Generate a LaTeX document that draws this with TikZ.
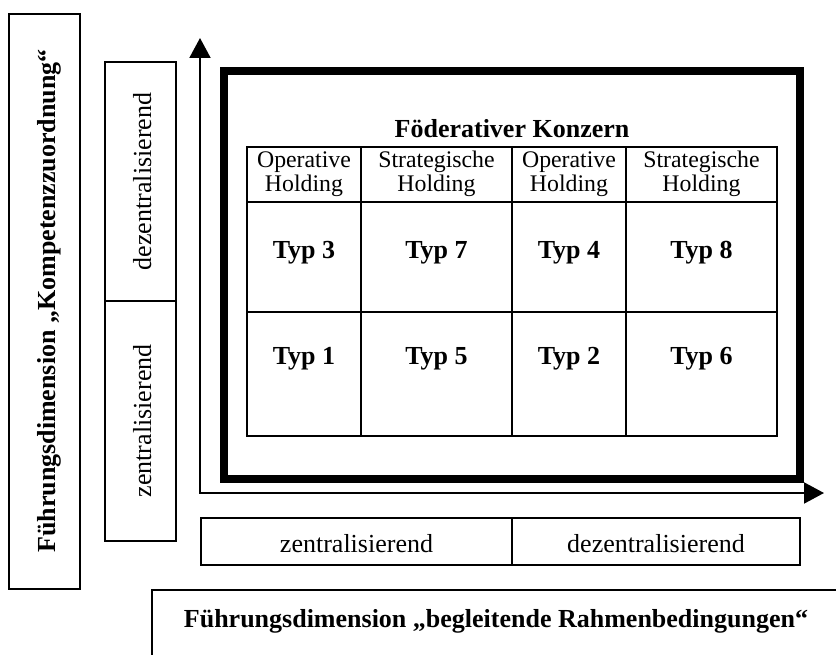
\documentclass[tikz,border=0pt]{standalone}
\usepackage{fontspec}
\setmainfont{Liberation Serif}
\usetikzlibrary{arrows.meta}
\begin{document}
\begin{tikzpicture}[x=1pt,y=-1pt,
  txt/.style={font=\fontsize{26}{30}\selectfont, inner sep=0pt},
  btxt/.style={font=\fontsize{26}{30}\selectfont\bfseries, inner sep=0pt},
  htxt/.style={font=\fontsize{23.8}{26}\selectfont, inner sep=0pt},
  box/.style={draw, line width=2pt, inner sep=0pt},
  grid/.style={line width=2.4pt},
  frame/.style={draw, line width=8pt, inner sep=0pt},
  axis/.style={line width=2pt, {Triangle[length=20pt,width=21pt]}-{Triangle[length=20pt,width=21pt]}},
]
\useasboundingbox (0,0) rectangle (836,655);

% dimension boxes on the left
\node[box, minimum width=71pt, minimum height=575pt] (boxK) at (44.5,301.5) {};
\node[box, minimum width=71pt, minimum height=239pt] (boxKd) at (140.5,181.5) {};
\node[box, minimum width=71pt, minimum height=240pt] (boxKz) at (140.5,421) {};
\node[btxt, rotate=90, anchor=base] (labK) at (56,301) {Führungsdimension „Kompetenzzuordnung“};
\node[txt, rotate=90, anchor=base] (labKd) at (151,181.5) {dezentralisierend};
\node[txt, rotate=90, anchor=base] (labKz) at (151,421) {zentralisierend};

% axes
\coordinate (O) at (200,493);
\coordinate (ytip) at (200,38);
\coordinate (xtip) at (824,493);
\draw[axis] (ytip) -- (O) -- (xtip);

% thick frame around the typology
\node[frame, minimum width=576pt, minimum height=408pt] (frm) at (512,275) {};

% typology table
\node[btxt, anchor=base] (title) at (512,138) {Föderativer Konzern};
\draw[grid] (247,147) rectangle (777,436);
\draw[grid] (247,202) -- (777,202) (247,312) -- (777,312)
  (361,147) -- (361,436) (512,147) -- (512,436) (626,147) -- (626,436);

\node[htxt, anchor=base] (h1a) at (304,168) {Operative};
\node[htxt, anchor=base] (h1b) at (304,192) {Holding};
\node[htxt, anchor=base] (h2a) at (436.5,168) {Strategische};
\node[htxt, anchor=base] (h2b) at (436.5,192) {Holding};
\node[htxt, anchor=base] (h3a) at (569,168) {Operative};
\node[htxt, anchor=base] (h3b) at (569,192) {Holding};
\node[htxt, anchor=base] (h4a) at (701.5,168) {Strategische};
\node[htxt, anchor=base] (h4b) at (701.5,192) {Holding};

\node[btxt, anchor=base] (t3) at (304,259) {Typ 3};
\node[btxt, anchor=base] (t7) at (436.5,259) {Typ 7};
\node[btxt, anchor=base] (t4) at (569,259) {Typ 4};
\node[btxt, anchor=base] (t8) at (701.5,259) {Typ 8};
\node[btxt, anchor=base] (t1) at (304,364) {Typ 1};
\node[btxt, anchor=base] (t5) at (436.5,364) {Typ 5};
\node[btxt, anchor=base] (t2) at (569,364) {Typ 2};
\node[btxt, anchor=base] (t6) at (701.5,364) {Typ 6};

% horizontal dimension boxes
\node[box, minimum width=311pt, minimum height=47pt] (boxRz) at (356.5,541.5) {};
\node[box, minimum width=288pt, minimum height=47pt] (boxRd) at (656,541.5) {};
\node[txt, anchor=base] (labRz) at (356.5,552) {zentralisierend};
\node[txt, anchor=base] (labRd) at (656,552) {dezentralisierend};

% open box for the second dimension
\coordinate (rb) at (152,670);
\coordinate (rt) at (850,590);
\draw[line width=2pt] (rb) |- (rt);
\node[btxt, anchor=base] (labR) at (496,627) {Führungsdimension „begleitende Rahmenbedingungen“};
\end{tikzpicture}
\end{document}
